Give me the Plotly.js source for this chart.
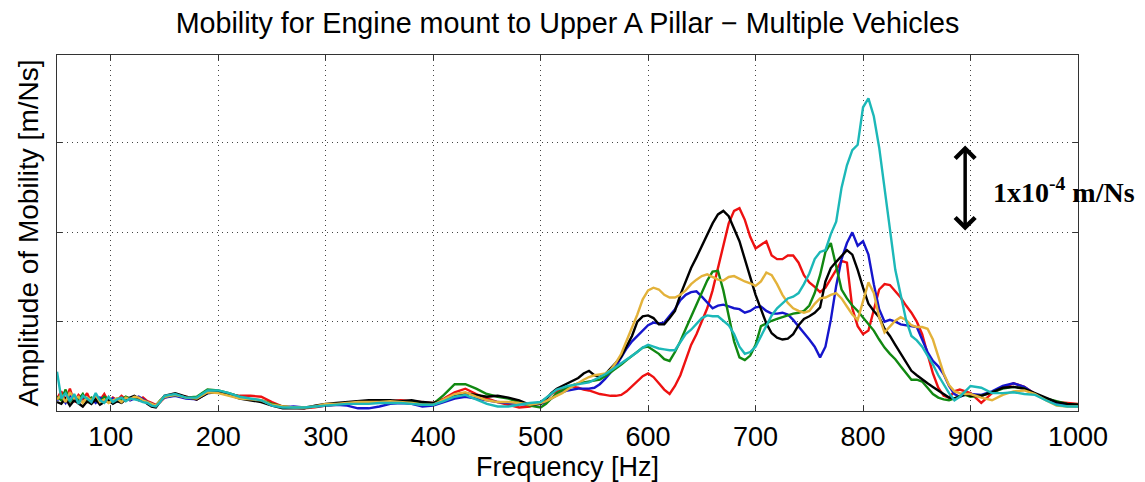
<!DOCTYPE html>
<html>
<head>
<meta charset="utf-8">
<script src="https://cdn.plot.ly/plotly-3.0.1.min.js"></script>
<style>html,body{margin:0;padding:0;background:#fff;}#chart{width:1145px;height:482px;}</style>
</head>
<body>
<div id="chart"></div>
<script>
// Frequency grid [Hz]
const freq = [
  50,54,58,62,66,70,74,78,82,86,90,94,98,102,106,110,114,118,122,126,130,134,138,142,146,
  150,160,170,180,190,200,210,220,230,240,250,260,270,280,290,300,310,320,330,340,
  350,360,370,380,390,400,410,420,430,440,450,460,470,480,490,
  500,505,510,515,520,525,530,535,540,545,550,555,560,565,570,575,580,585,590,595,
  600,605,610,615,620,625,630,635,640,645,650,655,660,665,670,675,680,685,690,695,
  700,705,710,715,720,725,730,735,740,745,750,755,760,765,770,775,780,785,790,795,
  800,805,810,815,820,825,830,835,840,845,850,855,860,865,870,875,880,885,890,895,
  900,910,920,930,940,950,960,970,980,990,1000
];

// Amplitude of mobility, in units of 1e-4 m/Ns, one array per vehicle
const red = [
  0.14,0.22,0.12,0.25,0.1,0.18,0.13,0.2,0.09,0.16,0.12,0.19,0.1,0.15,0.12,0.17,0.13,0.14,0.16,0.12,0.15,0.11,0.09,0.07,0.1,
  0.15,0.18,0.16,0.13,0.21,0.21,0.19,0.17,0.17,0.16,0.1,0.05,0.04,0.03,0.04,0.06,0.07,0.08,0.09,0.1,
  0.1,0.11,0.12,0.11,0.1,0.09,0.14,0.21,0.25,0.19,0.14,0.1,0.07,0.04,0.05,
  0.1,0.14,0.19,0.22,0.25,0.27,0.27,0.26,0.24,0.23,0.21,0.19,0.18,0.17,0.17,0.18,0.22,0.28,0.34,0.39,
  0.42,0.38,0.31,0.24,0.19,0.28,0.4,0.57,0.74,0.86,1.0,1.15,1.35,1.6,1.85,2.1,2.24,2.27,2.14,1.95,
  1.82,1.86,1.9,1.74,1.7,1.7,1.74,1.74,1.66,1.52,1.44,1.39,1.33,1.38,1.48,1.58,1.68,1.66,1.15,0.95,
  0.86,0.9,1.12,1.36,1.42,1.41,1.34,1.27,1.18,1.1,1.0,0.86,0.64,0.42,0.26,0.17,0.15,0.22,0.24,0.22,
  0.2,0.09,0.2,0.26,0.31,0.27,0.19,0.14,0.1,0.09,0.08
];
const blue = [
  0.12,0.16,0.09,0.18,0.12,0.1,0.17,0.11,0.14,0.09,0.15,0.12,0.1,0.14,0.11,0.13,0.15,0.12,0.14,0.16,0.13,0.1,0.08,0.06,0.11,
  0.15,0.17,0.14,0.13,0.2,0.21,0.18,0.15,0.13,0.11,0.07,0.04,0.05,0.04,0.05,0.06,0.07,0.06,0.03,0.03,
  0.05,0.08,0.09,0.08,0.05,0.06,0.1,0.14,0.16,0.14,0.12,0.1,0.09,0.08,0.07,
  0.08,0.1,0.14,0.18,0.21,0.23,0.24,0.25,0.25,0.25,0.26,0.3,0.36,0.43,0.5,0.6,0.7,0.78,0.84,0.9,
  0.96,0.99,0.98,0.99,1.06,1.14,1.24,1.3,1.33,1.34,1.28,1.21,1.15,1.18,1.19,1.17,1.15,1.14,1.1,1.12,
  1.16,1.17,1.12,1.09,1.09,1.1,1.08,1.02,0.95,0.87,0.8,0.72,0.6,0.72,1.02,1.4,1.7,1.88,2.0,1.85,
  1.9,1.75,1.42,1.14,1.0,1.02,1.0,0.97,0.96,0.95,0.94,0.8,0.66,0.56,0.5,0.41,0.28,0.19,0.16,0.18,
  0.19,0.18,0.22,0.28,0.31,0.27,0.19,0.13,0.08,0.06,0.05
];
const green = [
  0.16,0.12,0.24,0.1,0.17,0.13,0.19,0.1,0.15,0.12,0.1,0.16,0.13,0.11,0.14,0.12,0.16,0.14,0.15,0.13,0.11,0.1,0.07,0.06,0.12,
  0.16,0.18,0.15,0.16,0.24,0.23,0.2,0.16,0.13,0.12,0.08,0.05,0.04,0.04,0.05,0.07,0.08,0.08,0.09,0.1,
  0.1,0.11,0.1,0.1,0.08,0.08,0.18,0.3,0.3,0.25,0.19,0.16,0.14,0.1,0.06,
  0.04,0.08,0.14,0.2,0.23,0.26,0.29,0.31,0.32,0.33,0.34,0.35,0.39,0.43,0.47,0.52,0.57,0.62,0.67,0.71,
  0.72,0.68,0.64,0.58,0.56,0.66,0.78,0.92,1.06,1.19,1.32,1.46,1.56,1.57,1.35,1.05,0.78,0.6,0.57,0.62,
  0.74,0.95,0.98,1.01,1.03,1.05,1.07,1.09,1.1,1.12,1.18,1.32,1.52,1.78,1.88,1.62,1.36,1.26,1.18,1.12,
  1.05,0.98,0.9,0.8,0.71,0.64,0.58,0.5,0.42,0.35,0.35,0.33,0.26,0.19,0.15,0.13,0.12,0.14,0.17,0.18,
  0.16,0.17,0.21,0.25,0.27,0.25,0.19,0.14,0.11,0.08,0.07
];
const black = [
  0.1,0.08,0.14,0.06,0.12,0.09,0.05,0.11,0.08,0.13,0.07,0.1,0.12,0.08,0.11,0.09,0.13,0.15,0.17,0.14,0.12,0.08,0.05,0.04,0.1,
  0.17,0.2,0.16,0.13,0.2,0.21,0.18,0.14,0.12,0.1,0.06,0.03,0.03,0.03,0.06,0.08,0.09,0.1,0.11,0.12,
  0.12,0.12,0.11,0.12,0.1,0.09,0.12,0.17,0.2,0.18,0.16,0.17,0.15,0.12,0.07,
  0.08,0.13,0.2,0.25,0.28,0.31,0.34,0.37,0.42,0.45,0.4,0.38,0.41,0.47,0.54,0.61,0.72,0.84,1.0,1.06,
  1.07,1.04,0.97,0.97,1.04,1.12,1.3,1.46,1.6,1.72,1.85,1.98,2.1,2.2,2.24,2.18,2.05,1.9,1.7,1.5,
  1.3,1.14,0.98,0.87,0.82,0.8,0.81,0.86,0.96,1.03,1.06,1.1,1.16,1.45,1.6,1.67,1.74,1.8,1.75,1.58,
  1.38,1.2,1.12,1.05,0.92,0.84,0.74,0.64,0.54,0.45,0.4,0.35,0.31,0.27,0.23,0.18,0.15,0.14,0.16,0.19,
  0.17,0.17,0.21,0.26,0.27,0.25,0.2,0.15,0.1,0.08,0.07
];
const yellow = [
  0.13,0.18,0.1,0.21,0.14,0.16,0.09,0.15,0.12,0.18,0.1,0.13,0.09,0.12,0.14,0.1,0.15,0.13,0.16,0.15,0.12,0.1,0.08,0.06,0.11,
  0.16,0.18,0.15,0.14,0.21,0.2,0.17,0.14,0.13,0.12,0.07,0.05,0.04,0.04,0.05,0.08,0.08,0.09,0.1,0.1,
  0.1,0.11,0.1,0.09,0.07,0.07,0.13,0.19,0.21,0.16,0.12,0.1,0.1,0.09,0.07,
  0.09,0.11,0.14,0.17,0.2,0.24,0.28,0.32,0.35,0.38,0.4,0.41,0.42,0.46,0.54,0.64,0.78,0.93,1.08,1.25,
  1.35,1.38,1.36,1.3,1.27,1.27,1.3,1.35,1.42,1.47,1.51,1.53,1.5,1.47,1.46,1.5,1.51,1.48,1.45,1.43,
  1.4,1.45,1.55,1.52,1.42,1.3,1.21,1.15,1.12,1.1,1.12,1.2,1.26,1.27,1.3,1.32,1.26,1.17,1.08,1.02,
  1.22,1.44,1.32,1.05,0.88,0.95,1.01,1.05,1.02,0.96,0.94,0.94,0.92,0.8,0.6,0.42,0.29,0.22,0.2,0.19,
  0.19,0.15,0.12,0.18,0.22,0.23,0.19,0.12,0.06,0.05,0.05
];
const cyan = [
  0.44,0.14,0.2,0.11,0.19,0.08,0.17,0.14,0.1,0.2,0.12,0.09,0.16,0.1,0.13,0.15,0.11,0.14,0.13,0.12,0.1,0.09,0.06,0.05,0.1,
  0.17,0.19,0.15,0.15,0.23,0.23,0.2,0.16,0.14,0.12,0.06,0.04,0.04,0.04,0.05,0.06,0.07,0.08,0.08,0.08,
  0.09,0.09,0.09,0.08,0.07,0.07,0.11,0.16,0.18,0.13,0.08,0.05,0.05,0.07,0.09,
  0.1,0.15,0.2,0.24,0.26,0.28,0.29,0.3,0.31,0.32,0.35,0.38,0.41,0.45,0.49,0.53,0.57,0.61,0.66,0.71,
  0.74,0.72,0.7,0.69,0.68,0.68,0.77,0.86,0.91,0.97,1.04,1.07,1.06,1.06,1.01,0.96,0.86,0.72,0.64,0.66,
  0.72,0.84,0.96,1.07,1.15,1.21,1.26,1.28,1.32,1.42,1.54,1.7,1.78,1.8,1.98,2.12,2.5,2.75,2.92,2.98,
  3.4,3.5,3.3,2.95,2.5,1.99,1.58,1.3,1.02,0.84,0.79,0.72,0.62,0.52,0.4,0.3,0.2,0.12,0.16,0.22,
  0.28,0.26,0.2,0.2,0.21,0.19,0.18,0.12,0.07,0.05,0.05
];

const seriesNames = ['Vehicle 1','Vehicle 2','Vehicle 3','Vehicle 4','Vehicle 5','Vehicle 6'];
const seriesData = [red, blue, green, black, yellow, cyan];
const seriesColors = ['#EE1111','#1515CC','#118811','#000000','#E3B23A','#1CB8B8'];

const xTicks = [100,200,300,400,500,600,700,800,900,1000];
const scaleText = '<b>1x10<sup>-4</sup> m/Ns</b>';

const traces = seriesData.map((ys, i) => ({
  x: freq, y: ys, type: 'scatter', mode: 'lines', name: seriesNames[i],
  line: {color: seriesColors[i], width: 2.4}, hoverinfo: 'skip'
}));

const font = 'Liberation Sans, Arial, sans-serif';
const layout = {
  width: 1145, height: 482,
  margin: {l: 57, r: 67, t: 55, b: 71},
  paper_bgcolor: '#fff', plot_bgcolor: '#fff',
  showlegend: false,
  title: {
    text: 'Mobility for Engine mount to Upper A Pillar − Multiple Vehicles',
    font: {family: font, size: 28.7, color: '#000'},
    x: 0.5, xref: 'paper', xanchor: 'center',
    y: 1 - 23/482, yref: 'container', yanchor: 'middle'
  },
  xaxis: {
    range: [50, 1000], tickvals: xTicks, ticktext: xTicks.map(String),
    ticks: 'inside', ticklen: 5, tickcolor: '#333', mirror: 'ticks',
    showline: true, linecolor: '#333', linewidth: 1,
    showgrid: true, gridcolor: '#444', gridwidth: 1, griddash: '1px,4px',
    zeroline: false, tickfont: {family: font, size: 27, color: '#000'},
    ticklabelstandoff: 2,
    title: {text: 'Frequency [Hz]', font: {family: font, size: 27, color: '#000'}, standoff: 0},
    automargin: false
  },
  yaxis: {
    range: [0, 3.985], dtick: 1, tick0: 0, showticklabels: false,
    ticks: 'inside', ticklen: 5, tickcolor: '#333', mirror: 'ticks',
    showline: true, linecolor: '#333', linewidth: 1,
    showgrid: true, gridcolor: '#444', gridwidth: 1, griddash: '1px,4px',
    zeroline: false,
    title: {text: 'Amplitude of Mobility [m/Ns]', font: {family: font, size: 28, color: '#000'}, standoff: 9},
    automargin: false
  },
  annotations: [
    {x: 895, y: 2.02, ax: 895, ay: 2.99, xref: 'x', yref: 'y', axref: 'x', ayref: 'y',
     text: '', showarrow: true, arrowside: 'end+start', arrowhead: 4, arrowsize: 1.1,
     arrowwidth: 3.5, arrowcolor: '#000', standoff: 0, startstandoff: 0},
    {x: 919.5, y: 2.47, xref: 'x', yref: 'y', xanchor: 'left', yanchor: 'middle',
     text: scaleText, showarrow: false,
     font: {family: 'Liberation Serif, Times New Roman, serif', size: 28, color: '#000'}}
  ]
};

Plotly.newPlot('chart', traces, layout, {staticPlot: true, displayModeBar: false});
</script>
</body>
</html>
